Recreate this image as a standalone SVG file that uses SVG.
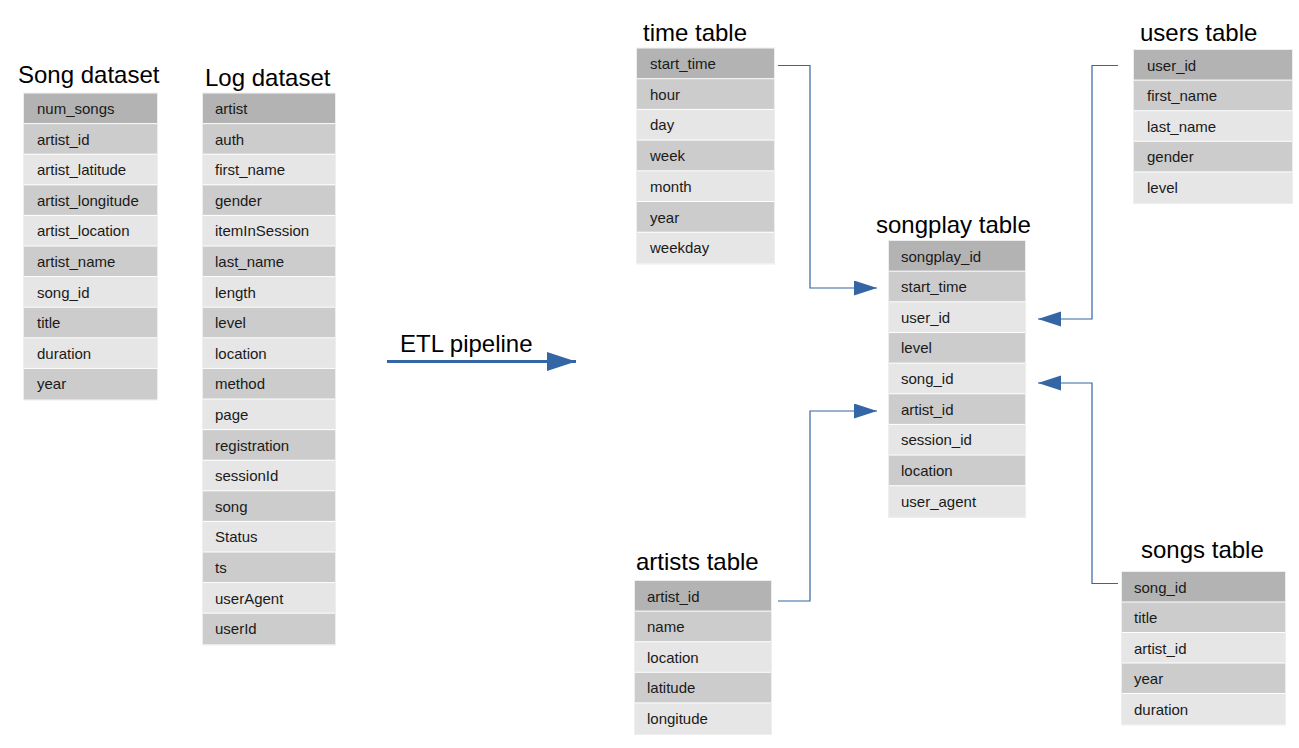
<svg xmlns="http://www.w3.org/2000/svg" width="1299" height="748" viewBox="0 0 1299 748">
<defs>
<style>
.h{fill:#b3b3b3}
.m{fill:#cccccc}
.l{fill:#e6e6e6}
.fr{fill:none;stroke:#eeeeee;stroke-width:1}
.t{font-family:"Liberation Sans",Arial,sans-serif;font-size:15px;fill:#1a1a1a}
.ti{font-family:"Liberation Sans",Arial,sans-serif;font-size:24px;fill:#000000}
.c{fill:none;stroke:#3465a4;stroke-width:1.2}
.etl{fill:none;stroke:#3465a4;stroke-width:3}
</style>
<marker id="ah" markerUnits="userSpaceOnUse" markerWidth="24" markerHeight="16" refX="23" refY="7.5" orient="auto">
<path d="M0,0 L23,7.5 L0,15 Z" fill="#3465a4"/>
</marker>
<marker id="ahb" markerUnits="userSpaceOnUse" markerWidth="30" markerHeight="20" refX="29" refY="9.5" orient="auto">
<path d="M0,0 L29,9.5 L0,19 Z" fill="#3465a4"/>
</marker>
</defs>
<rect width="1299" height="748" fill="#ffffff"/>

<g id="song-dataset">
<text class="ti" x="18" y="83">Song dataset</text>
<rect class="fr" x="23.5" y="93" width="134" height="307"/>
<rect class="h" x="24" y="93.5" width="133" height="29.6"/><text class="t" x="37" y="114">num_songs</text>
<rect class="m" x="24" y="124.1" width="133" height="29.6"/><text class="t" x="37" y="144.6">artist_id</text>
<rect class="l" x="24" y="154.7" width="133" height="29.6"/><text class="t" x="37" y="175.2">artist_latitude</text>
<rect class="m" x="24" y="185.3" width="133" height="29.6"/><text class="t" x="37" y="205.8">artist_longitude</text>
<rect class="l" x="24" y="215.9" width="133" height="29.6"/><text class="t" x="37" y="236.4">artist_location</text>
<rect class="m" x="24" y="246.5" width="133" height="29.6"/><text class="t" x="37" y="267">artist_name</text>
<rect class="l" x="24" y="277.1" width="133" height="29.6"/><text class="t" x="37" y="297.6">song_id</text>
<rect class="m" x="24" y="307.7" width="133" height="29.6"/><text class="t" x="37" y="328.2">title</text>
<rect class="l" x="24" y="338.3" width="133" height="29.6"/><text class="t" x="37" y="358.8">duration</text>
<rect class="m" x="24" y="368.9" width="133" height="30.6"/><text class="t" x="37" y="389.4">year</text>
</g>

<g id="log-dataset">
<text class="ti" x="205" y="86">Log dataset</text>
<rect class="fr" x="202.5" y="93" width="133" height="552"/>
<rect class="h" x="203" y="93.5" width="132" height="29.6"/><text class="t" x="215" y="114">artist</text>
<rect class="m" x="203" y="124.1" width="132" height="29.6"/><text class="t" x="215" y="144.6">auth</text>
<rect class="l" x="203" y="154.7" width="132" height="29.6"/><text class="t" x="215" y="175.2">first_name</text>
<rect class="m" x="203" y="185.3" width="132" height="29.6"/><text class="t" x="215" y="205.8">gender</text>
<rect class="l" x="203" y="215.9" width="132" height="29.6"/><text class="t" x="215" y="236.4">itemInSession</text>
<rect class="m" x="203" y="246.5" width="132" height="29.6"/><text class="t" x="215" y="267">last_name</text>
<rect class="l" x="203" y="277.1" width="132" height="29.6"/><text class="t" x="215" y="297.6">length</text>
<rect class="m" x="203" y="307.7" width="132" height="29.6"/><text class="t" x="215" y="328.2">level</text>
<rect class="l" x="203" y="338.3" width="132" height="29.6"/><text class="t" x="215" y="358.8">location</text>
<rect class="m" x="203" y="368.9" width="132" height="29.6"/><text class="t" x="215" y="389.4">method</text>
<rect class="l" x="203" y="399.5" width="132" height="29.6"/><text class="t" x="215" y="420">page</text>
<rect class="m" x="203" y="430.1" width="132" height="29.6"/><text class="t" x="215" y="450.6">registration</text>
<rect class="l" x="203" y="460.7" width="132" height="29.6"/><text class="t" x="215" y="481.2">sessionId</text>
<rect class="m" x="203" y="491.3" width="132" height="29.6"/><text class="t" x="215" y="511.8">song</text>
<rect class="l" x="203" y="521.9" width="132" height="29.6"/><text class="t" x="215" y="542.4">Status</text>
<rect class="m" x="203" y="552.5" width="132" height="29.6"/><text class="t" x="215" y="573">ts</text>
<rect class="l" x="203" y="583.1" width="132" height="29.6"/><text class="t" x="215" y="603.6">userAgent</text>
<rect class="m" x="203" y="613.7" width="132" height="30.6"/><text class="t" x="215" y="634.2">userId</text>
</g>

<g id="etl-pipeline">
<text class="ti" x="400" y="352">ETL pipeline</text>
</g>

<g id="time-table">
<text class="ti" x="643" y="41">time table</text>
<rect class="fr" x="636.5" y="48" width="138" height="216"/>
<rect class="h" x="637" y="48.5" width="137" height="29.7"/><text class="t" x="650" y="69">start_time</text>
<rect class="m" x="637" y="79.2" width="137" height="29.7"/><text class="t" x="650" y="99.7">hour</text>
<rect class="l" x="637" y="109.9" width="137" height="29.7"/><text class="t" x="650" y="130.4">day</text>
<rect class="m" x="637" y="140.6" width="137" height="29.7"/><text class="t" x="650" y="161.1">week</text>
<rect class="l" x="637" y="171.3" width="137" height="29.7"/><text class="t" x="650" y="191.8">month</text>
<rect class="m" x="637" y="202" width="137" height="29.7"/><text class="t" x="650" y="222.5">year</text>
<rect class="l" x="637" y="232.7" width="137" height="30.7"/><text class="t" x="650" y="253.2">weekday</text>
</g>

<g id="users-table">
<text class="ti" x="1140" y="41">users table</text>
<rect class="fr" x="1133.5" y="49.5" width="159" height="154"/>
<rect class="h" x="1134" y="50" width="158" height="29.6"/><text class="t" x="1147" y="70.5">user_id</text>
<rect class="m" x="1134" y="80.6" width="158" height="29.6"/><text class="t" x="1147" y="101.1">first_name</text>
<rect class="l" x="1134" y="111.2" width="158" height="29.6"/><text class="t" x="1147" y="131.7">last_name</text>
<rect class="m" x="1134" y="141.8" width="158" height="29.6"/><text class="t" x="1147" y="162.3">gender</text>
<rect class="l" x="1134" y="172.4" width="158" height="30.6"/><text class="t" x="1147" y="192.9">level</text>
</g>

<g id="songplay-table">
<text class="ti" x="876" y="233">songplay table</text>
<rect class="fr" x="888.5" y="240.5" width="137" height="277"/>
<rect class="h" x="889" y="241" width="136" height="29.65"/><text class="t" x="901" y="261.5">songplay_id</text>
<rect class="m" x="889" y="271.65" width="136" height="29.65"/><text class="t" x="901" y="292.15">start_time</text>
<rect class="l" x="889" y="302.3" width="136" height="29.65"/><text class="t" x="901" y="322.8">user_id</text>
<rect class="m" x="889" y="332.95" width="136" height="29.65"/><text class="t" x="901" y="353.45">level</text>
<rect class="l" x="889" y="363.6" width="136" height="29.65"/><text class="t" x="901" y="384.1">song_id</text>
<rect class="m" x="889" y="394.25" width="136" height="29.65"/><text class="t" x="901" y="414.75">artist_id</text>
<rect class="l" x="889" y="424.9" width="136" height="29.65"/><text class="t" x="901" y="445.4">session_id</text>
<rect class="m" x="889" y="455.55" width="136" height="29.65"/><text class="t" x="901" y="476.05">location</text>
<rect class="l" x="889" y="486.2" width="136" height="30.65"/><text class="t" x="901" y="506.7">user_agent</text>
</g>

<g id="artists-table">
<text class="ti" x="636" y="570">artists table</text>
<rect class="fr" x="634.5" y="580.5" width="137" height="154"/>
<rect class="h" x="635" y="581" width="136" height="29.6"/><text class="t" x="647" y="601.5">artist_id</text>
<rect class="m" x="635" y="611.6" width="136" height="29.6"/><text class="t" x="647" y="632.1">name</text>
<rect class="l" x="635" y="642.2" width="136" height="29.6"/><text class="t" x="647" y="662.7">location</text>
<rect class="m" x="635" y="672.8" width="136" height="29.6"/><text class="t" x="647" y="693.3">latitude</text>
<rect class="l" x="635" y="703.4" width="136" height="30.6"/><text class="t" x="647" y="723.9">longitude</text>
</g>

<g id="songs-table">
<text class="ti" x="1141" y="558">songs table</text>
<rect class="fr" x="1121.5" y="571.5" width="164" height="153.5"/>
<rect class="h" x="1122" y="572" width="163" height="29.5"/><text class="t" x="1134" y="592.5">song_id</text>
<rect class="m" x="1122" y="602.5" width="163" height="29.5"/><text class="t" x="1134" y="623">title</text>
<rect class="l" x="1122" y="633" width="163" height="29.5"/><text class="t" x="1134" y="653.5">artist_id</text>
<rect class="m" x="1122" y="663.5" width="163" height="29.5"/><text class="t" x="1134" y="684">year</text>
<rect class="l" x="1122" y="694" width="163" height="30.5"/><text class="t" x="1134" y="714.5">duration</text>
</g>

<g id="connectors">
<path class="etl" d="M387,361.5 H576" marker-end="url(#ahb)"/>
<path class="c" d="M778,65.5 H810 V288 H877" marker-end="url(#ah)"/>
<path class="c" d="M1118,65.5 H1092 V319 H1038" marker-end="url(#ah)"/>
<path class="c" d="M1118,583.5 H1092 V383 H1038" marker-end="url(#ah)"/>
<path class="c" d="M778,601 H810 V411 H877" marker-end="url(#ah)"/>
</g>
</svg>
